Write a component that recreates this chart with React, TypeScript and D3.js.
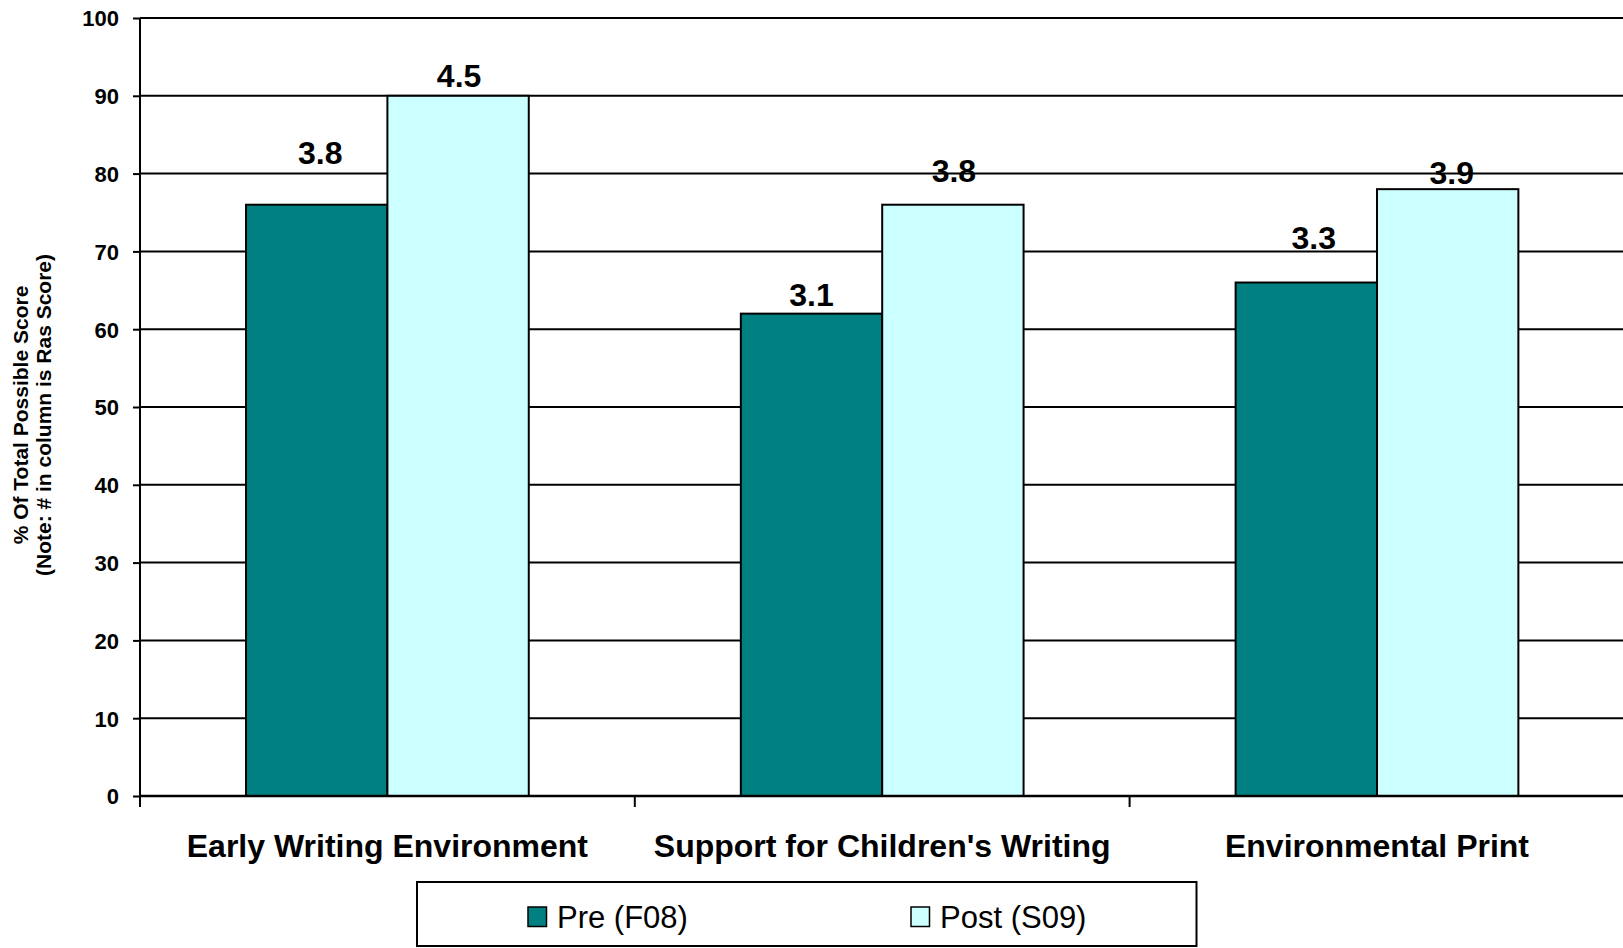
import { useEffect, useRef } from 'react';
import * as d3 from 'd3';

const categories = ['Early Writing Environment', "Support for Children's Writing", 'Environmental Print'];
const seriesNames = ['Pre (F08)', 'Post (S09)'];
const preValues = [76, 62, 66];
const postValues = [90, 76, 78];
const preLabels = ['3.8', '3.1', '3.3'];
const postLabels = ['4.5', '3.8', '3.9'];
const yTicks = [0, 10, 20, 30, 40, 50, 60, 70, 80, 90, 100];

const W = 1623;
const H = 948;
const FONT = '"Liberation Sans", Arial, sans-serif';
const COLORS = ['#008080', '#CCFFFF'];

// hand-placed data labels in the original: lift of baseline above bar top, and sideways nudge
const labelLift = [[41, 8, 34], [9, 23, 5]];
const labelNudge = [[3.5, 0, 7.5], [1, 1, 4]];

export default function App() {
  const ref = useRef<SVGSVGElement>(null);

  useEffect(() => {
    if (!ref.current) return;
    const svg = d3.select(ref.current);
    svg.selectAll('*').remove();

    const left = 140;
    const catW = 494.8;
    const top = 18;
    const bottom = 796;

    const x = d3.scaleBand<string>().domain(categories).range([left, left + catW * categories.length]).padding(0);
    const y = d3.scaleLinear().domain([0, 100]).range([bottom, top]);
    const barW = x.bandwidth() / 3.5;
    const gap = barW * 0.75;
    const xs = d3.scaleBand<number>().domain([0, 1]).range([gap, gap + barW * 2]).padding(0);

    // gridlines
    svg.append('g').selectAll('line').data(yTicks.filter(t => t > 0)).enter().append('line')
      .attr('x1', left).attr('x2', W).attr('y1', d => y(d)).attr('y2', d => y(d))
      .attr('stroke', '#000').attr('stroke-width', 2);

    // bars
    const series = [preValues, postValues];
    const labels = [preLabels, postLabels];
    series.forEach((vals, si) => {
      svg.append('g').selectAll('rect').data(vals).enter().append('rect')
        .attr('x', (_, i) => (x(categories[i]) ?? 0) + (xs(si) ?? 0))
        .attr('width', barW)
        .attr('y', d => y(d))
        .attr('height', d => bottom - y(d))
        .attr('fill', COLORS[si])
        .attr('stroke', '#000').attr('stroke-width', 2);
    });

    // data labels
    series.forEach((vals, si) => {
      svg.append('g').selectAll('text').data(vals).enter().append('text')
        .attr('x', (_, i) => (x(categories[i]) ?? 0) + (xs(si) ?? 0) + barW / 2 + labelNudge[si][i])
        .attr('y', (d, i) => y(d) - labelLift[si][i])
        .attr('text-anchor', 'middle')
        .attr('font-family', FONT).attr('font-size', 32).attr('font-weight', 700).attr('fill', '#000')
        .text((_, i) => labels[si][i]);
    });

    // y axis
    const yAxis = svg.append('g').attr('transform', `translate(${left},0)`)
      .call(d3.axisLeft(y).tickValues(yTicks).tickSize(7).tickPadding(14).tickFormat(d3.format('d')));
    yAxis.select('.domain').attr('stroke', '#000').attr('stroke-width', 2).attr('d', `M0,${top}V${bottom}`);
    yAxis.selectAll('.tick line').attr('stroke', '#000').attr('stroke-width', 2);
    yAxis.selectAll('.tick text').attr('font-family', FONT).attr('font-size', 22).attr('font-weight', 700)
      .attr('fill', '#000').attr('dy', '0.36em');

    // x axis
    svg.append('line').attr('x1', left).attr('x2', W).attr('y1', bottom).attr('y2', bottom)
      .attr('stroke', '#000').attr('stroke-width', 2.5);
    svg.append('g').selectAll('line').data(categories).enter().append('line')
      .attr('x1', d => x(d) ?? 0).attr('x2', d => x(d) ?? 0)
      .attr('y1', bottom).attr('y2', bottom + 11)
      .attr('stroke', '#000').attr('stroke-width', 2);
    svg.append('g').selectAll('text').data(categories).enter().append('text')
      .attr('x', d => (x(d) ?? 0) + x.bandwidth() / 2)
      .attr('y', 857)
      .attr('text-anchor', 'middle')
      .attr('font-family', FONT).attr('font-size', 32).attr('font-weight', 700).attr('fill', '#000')
      .text(d => d);

    // y title
    const yt = svg.append('text')
      .attr('transform', 'translate(28,415) rotate(-90)')
      .attr('text-anchor', 'middle')
      .attr('font-family', FONT).attr('font-size', 21).attr('font-weight', 700).attr('fill', '#000');
    yt.append('tspan').attr('x', 0).attr('y', 0).text('% Of Total Possible Score');
    yt.append('tspan').attr('x', 0).attr('y', 23).text('(Note: # in column is Ras Score)');

    // legend
    const lg = svg.append('g');
    lg.append('rect').attr('x', 417).attr('y', 882).attr('width', 779.5).attr('height', 64)
      .attr('fill', '#fff').attr('stroke', '#000').attr('stroke-width', 2);
    const legendX = [528, 911];
    seriesNames.forEach((name, i) => {
      lg.append('rect').attr('x', legendX[i]).attr('y', 907).attr('width', 18.5).attr('height', 19.5)
        .attr('fill', COLORS[i]).attr('stroke', '#000').attr('stroke-width', 1.5);
      lg.append('text').attr('x', legendX[i] + 29).attr('y', 928)
        .attr('font-family', FONT).attr('font-size', 31).attr('fill', '#000')
        .text(name);
    });
  }, []);

  return (
    <svg ref={ref} width={W} height={H}
      style={{ position: 'absolute', left: 0, top: 0, background: '#fff' }} />
  );
}
